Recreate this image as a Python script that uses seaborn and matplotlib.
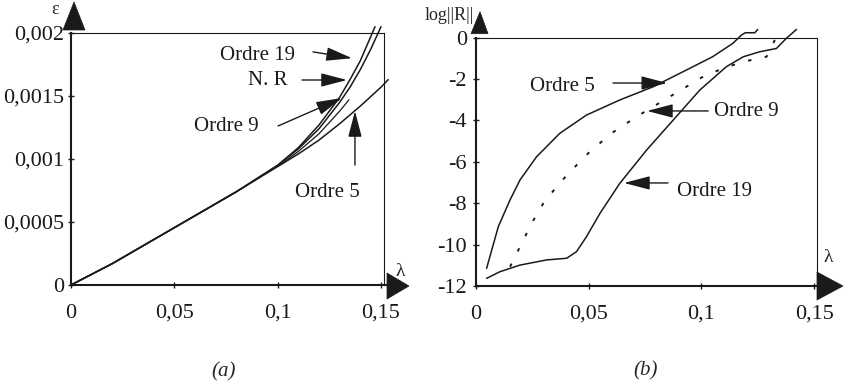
import matplotlib
matplotlib.use("Agg")
import matplotlib.pyplot as plt
from matplotlib.patches import Polygon
from matplotlib.transforms import IdentityTransform
import seaborn as sns

# ---------------- data : panel (a)  epsilon vs lambda ----------------
lam_a_nr = [0, 0.02, 0.04, 0.06, 0.08, 0.10, 0.11, 0.12, 0.13, 0.135, 0.14, 0.145, 0.15]
eps_a_nr = [0, 0.00017, 0.00036, 0.00055, 0.00074, 0.00095, 0.00108, 0.00124, 0.00145,
            0.00157, 0.00171, 0.00187, 0.00205]
lam_a_o19 = [0, 0.02, 0.04, 0.06, 0.08, 0.10, 0.11, 0.12, 0.13, 0.135, 0.14, 0.1471]
eps_a_o19 = [0, 0.00017, 0.00036, 0.00055, 0.00074, 0.00095, 0.00109, 0.00127, 0.00149,
             0.00163, 0.00178, 0.00205]
lam_a_o9 = [0.10, 0.11, 0.12, 0.13, 0.1345]
eps_a_o9 = [0.00094, 0.00106, 0.0012, 0.00138, 0.00147]
lam_a_o5 = [0, 0.02, 0.04, 0.06, 0.08, 0.10, 0.11, 0.12, 0.13, 0.14, 0.15, 0.1535]
eps_a_o5 = [0, 0.00017, 0.00036, 0.00055, 0.00074, 0.00094, 0.00104, 0.00115, 0.00128,
            0.00142, 0.00157, 0.00163]

# ---------------- data : panel (b)  log||R|| vs lambda ----------------
lam_b_o5 = [0.0047, 0.0099, 0.0151, 0.0195, 0.0269, 0.0372, 0.049, 0.0638, 0.0786, 0.0934,
            0.105, 0.114, 0.1178, 0.1195, 0.1237, 0.125]
logr_b_o5 = [-11.15, -9.13, -7.84, -6.88, -5.75, -4.62, -3.74, -3.01, -2.37, -1.56,
             -0.92, -0.27, 0.13, 0.24, 0.24, 0.4]
lam_b_o9 = [0.0151, 0.0188, 0.0247, 0.0299, 0.0358, 0.041, 0.0505, 0.0601, 0.0712, 0.086,
            0.1008, 0.1097, 0.1186, 0.1289, 0.1326]
logr_b_o9 = [-11.07, -10.26, -8.97, -8.0, -7.2, -6.56, -5.51, -4.62, -3.82, -2.85,
             -1.88, -1.48, -1.16, -0.92, -0.11]
lam_b_o19 = [0.0047, 0.0106, 0.0195, 0.0313, 0.0402, 0.0446, 0.049, 0.055, 0.0638, 0.0757,
             0.0875, 0.0993, 0.1111, 0.1186, 0.1259, 0.1333, 0.1377, 0.1422]
logr_b_o19 = [-11.63, -11.31, -10.99, -10.74, -10.66, -10.34, -9.62, -8.49, -7.04, -5.43,
              -3.98, -2.53, -1.4, -0.92, -0.68, -0.52, -0.03, 0.4]

x_ticks = [0, 0.05, 0.1, 0.15]
x_ticklabels = ["0", "0,05", "0,1", "0,15"]
ya_ticks = [0, 0.0005, 0.001, 0.0015, 0.002]
ya_ticklabels = ["0", "0,0005", "0,001", "0,0015", "0,002"]
yb_ticks = [-12, -10, -8, -6, -4, -2, 0]
yb_ticklabels = ["-12", "-10", "-8", "-6", "-4", "-2", "0"]

# annotations : (text, text position, arrow tail, arrow tip)
ann_a = [("Ordre 19", (0.090, 0.001825), (0.1171, 0.00185), (0.136, 0.0018)),
         ("N. R", (0.0953, 0.00162), (0.1118, 0.001627), (0.1335, 0.001627)),
         ("Ordre 9", (0.075, 0.001254), (0.1002, 0.001262), (0.1311, 0.001484)),
         ("Ordre 5", (0.1239, 0.000738), (0.1374, 0.000952), (0.1374, 0.00138))]
ann_b = [("Ordre 5", (0.0382, -2.38), (0.0608, -2.19), (0.0848, -2.19)),
         ("Ordre 9", (0.1198, -3.59), (0.103, -3.54), (0.0759, -3.54)),
         ("Ordre 19", (0.1056, -7.41), (0.0852, -7.02), (0.0657, -7.02))]

# ---------------- style ----------------
sns.set_theme(style="white")
plt.rcParams["font.family"] = ["Liberation Serif", "DejaVu Serif"]
plt.rcParams["mathtext.fontset"] = "stix"

W, H = 845, 388
fig = plt.figure(figsize=(W / 100, H / 100), dpi=100)
fig.patch.set_facecolor("white")


def px_axes(l, t, r, b):
    return fig.add_axes([l / W, 1 - b / H, (r - l) / W, (b - t) / H])


ax_a = px_axes(71, 33, 384, 285)
ax_b = px_axes(476, 37.7, 817, 286)

LW = 1.1
sns.lineplot(x=lam_a_nr, y=eps_a_nr, ax=ax_a, color="k", lw=LW, sort=False, estimator=None)
sns.lineplot(x=lam_a_o19, y=eps_a_o19, ax=ax_a, color="k", lw=LW, sort=False, estimator=None)
sns.lineplot(x=lam_a_o9, y=eps_a_o9, ax=ax_a, color="k", lw=0.9, sort=False, estimator=None)
sns.lineplot(x=lam_a_o5, y=eps_a_o5, ax=ax_a, color="k", lw=LW, sort=False, estimator=None)

sns.lineplot(x=lam_b_o5, y=logr_b_o5, ax=ax_b, color="k", lw=LW, sort=False, estimator=None)
sns.lineplot(x=lam_b_o9, y=logr_b_o9, ax=ax_b, color="k", lw=1.4, sort=False, estimator=None,
             linestyle=(0, (1.8, 7)))
sns.lineplot(x=lam_b_o19, y=logr_b_o19, ax=ax_b, color="k", lw=LW, sort=False, estimator=None)

for ln in ax_a.lines + ax_b.lines:
    ln.set_clip_on(False)

ax_a.set_xlim(0, 0.15145)
ax_a.set_ylim(0, 0.002)
ax_b.set_xlim(0, 0.1513)
ax_b.set_ylim(-12, 0)

ax_a.set_xticks(x_ticks, x_ticklabels)
ax_a.set_yticks(ya_ticks, ya_ticklabels)
ax_b.set_xticks(x_ticks, x_ticklabels)
ax_b.set_yticks(yb_ticks, yb_ticklabels)

for ax in (ax_a, ax_b):
    ax.set_facecolor("white")
    ax.set_xlabel("")
    ax.set_ylabel("")
    for s in ("top", "right"):
        ax.spines[s].set_linewidth(0.8)
        ax.spines[s].set_color("k")
    for s in ("left", "bottom"):
        ax.spines[s].set_linewidth(1.5)
        ax.spines[s].set_color("k")
    ax.tick_params(axis="both", which="major", direction="inout", length=5, width=1,
                   color="k", labelsize=16, labelcolor="k", bottom=True, left=True)
    ax.tick_params(axis="x", pad=11)
    ax.tick_params(axis="y", pad=2.5)
    ax.grid(False)

ax_b.tick_params(axis="y", pad=4)

# annotations with arrows
arrow_kw = dict(arrowstyle="-|>,head_length=1.6,head_width=0.42", color="k", lw=1.0,
                mutation_scale=10, shrinkA=0, shrinkB=0)
for ax, anns in ((ax_a, ann_a), (ax_b, ann_b)):
    for txt, tpos, tail, tip in anns:
        ax.text(tpos[0], tpos[1], txt, fontsize=15, ha="center", va="center", color="k")
        ax.annotate("", xy=tip, xytext=tail, arrowprops=arrow_kw, annotation_clip=False)

# axis arrow heads (pixel offsets from axes corners)
fig.canvas.draw()


def head(ax, anchor, pts):
    ox, oy = ax.transAxes.transform(anchor)
    poly = Polygon([(ox + dx, oy + dy) for dx, dy in pts], closed=True, facecolor="k",
                   edgecolor="k", lw=0.5, transform=IdentityTransform(), zorder=10)
    fig.patches.append(poly)


head(ax_a, (0, 1), [(-8, 3), (14, 3), (3, 31)])
head(ax_a, (1, 0), [(3, 12), (3, -14), (25, -1)])
head(ax_b, (0, 1), [(-5, 4), (12, 4), (4, 26)])
head(ax_b, (1, 0), [(0, 14), (0, -14), (26, 0)])

# small extension of x axis to the arrow head in (a)
ax_a.plot([1, 1.012], [0, 0], transform=ax_a.transAxes, color="k", lw=1.5, clip_on=False)

# axis names
ax_a.annotate("ε", xy=(0, 1), xycoords="axes fraction", xytext=(-16, 24),
              textcoords="offset pixels", fontsize=13, ha="center", va="center")
ax_a.annotate("λ", xy=(1, 0), xycoords="axes fraction", xytext=(16, 14),
              textcoords="offset pixels", fontsize=14, ha="center", va="center")
ax_b.annotate("log||R||", xy=(0, 1), xycoords="axes fraction", xytext=(-51, 22),
              textcoords="offset pixels", fontsize=13, ha="left", va="center", zorder=1)
ax_b.annotate("λ", xy=(1, 0), xycoords="axes fraction", xytext=(11, 28),
              textcoords="offset pixels", fontsize=14, ha="center", va="center")

# captions
fig.text(224 / W, 1 - 372 / H, "(a)", fontsize=15, style="italic", ha="center", va="center")
fig.text(646 / W, 1 - 371 / H, "(b)", fontsize=15, style="italic", ha="center", va="center")

fig.savefig("out.png", dpi=100, facecolor="white")
